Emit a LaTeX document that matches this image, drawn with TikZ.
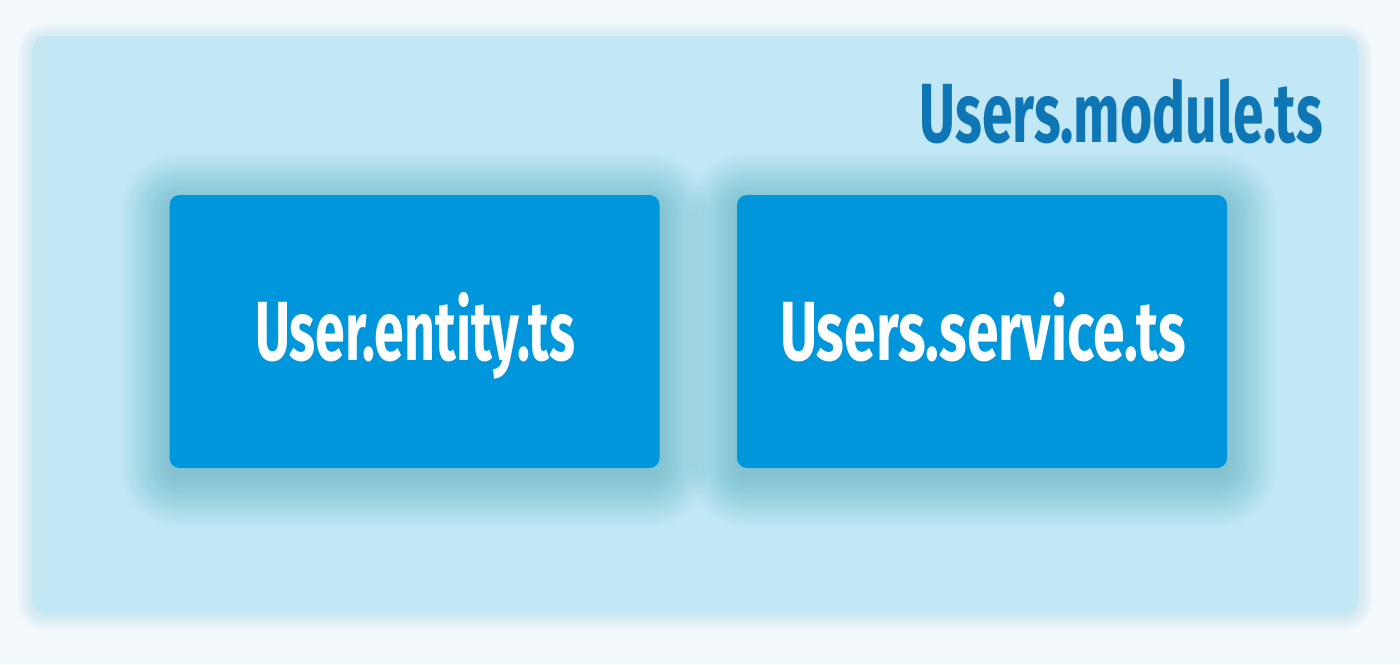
\documentclass[tikz,border=0pt]{standalone}
\usepackage{fontspec}
\usepackage{graphicx}
\setmainfont{Fira Sans}
\definecolor{bgc}{HTML}{F4F9FC}
\definecolor{outerc}{HTML}{C2E7F5}
\definecolor{glowc}{HTML}{B8DFEE}
\definecolor{titlec}{HTML}{0E76B4}
\definecolor{boxc}{HTML}{0096DB}
\definecolor{shadc}{HTML}{3D9CC4}
\tikzset{
  modbox/.style={fill=outerc, rounded corners=15pt, minimum width=1326pt, minimum height=578pt, inner sep=0pt, draw=none},
  filebox/.style={fill=boxc, rounded corners=10pt, minimum width=490pt, minimum height=273pt, inner sep=0pt, draw=none},
  lbl/.style={font=\bfseries\fontsize{84}{84}\selectfont, inner sep=0pt}
}
% cx cy w h r color steps stepsize opacity
\newcommand{\glowrect}[9]{%
  \foreach \i in {1,...,#7}{
    \fill[#6, opacity=#9, rounded corners={#5+\i*#8}]
      ({#1-#3/2-\i*#8},{#2-#4/2-\i*#8}) rectangle ({#1+#3/2+\i*#8},{#2+#4/2+\i*#8});
  }
}
\begin{document}
\begin{tikzpicture}[x=1pt,y=-1pt]
\fill[bgc] (0,0) rectangle (1400,664);
\useasboundingbox (0,0) rectangle (1400,664);
% outer glow
\glowrect{695}{327}{1326}{578}{15pt}{glowc}{12}{1.2}{0.05}
\node[modbox] (module) at (695,325) {};
% inner shadows
\glowrect{414.5}{340}{489}{273}{10pt}{shadc}{36}{1.4}{0.011}
\glowrect{982}{340}{490}{273}{10pt}{shadc}{36}{1.4}{0.011}
\node[filebox] (entity) at (414.5,331.5) {};
\node[filebox] (service) at (982,331.5) {};
\node[lbl, text=titlec, anchor=base east] (title) at (1323,142) {\resizebox{403pt}{\height}{Users.module.ts}};
\node[lbl, text=white, anchor=base] (entitytxt) at (415,360) {\resizebox{320pt}{\height}{User.entity.ts}};
\node[lbl, text=white, anchor=base] (servicetxt) at (983,360) {\resizebox{406pt}{\height}{Users.service.ts}};
\end{tikzpicture}
\end{document}
